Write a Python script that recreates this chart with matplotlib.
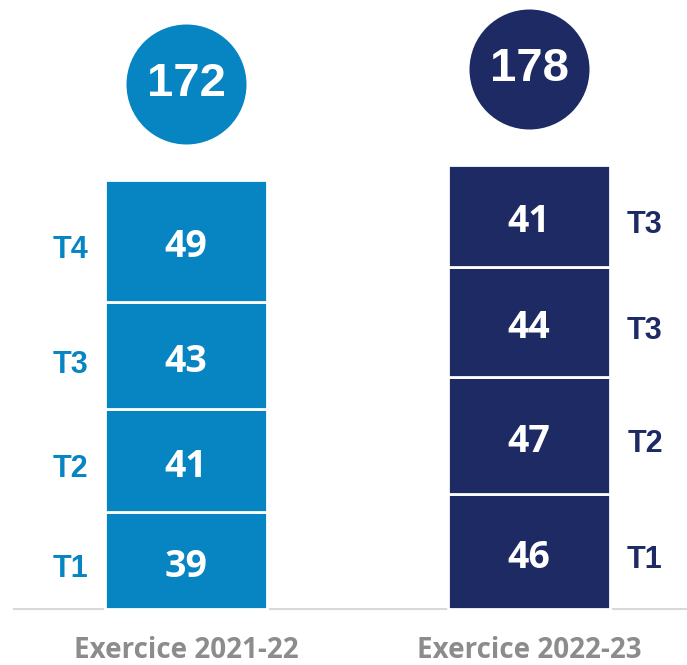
import matplotlib.pyplot as plt
import numpy as np

# Data
periods = ['Exercice 2021-22', 'Exercice 2022-23']
q_2021 = [39, 41, 43, 49]
q_2022 = [46, 47, 44, 41]
labels_2021 = ['T1', 'T2', 'T3', 'T4']
labels_2022 = ['T1', 'T2', 'T3', 'T3']

colors = ['#0785C3', '#1D2A64']
series = [q_2021, q_2022]
seg_labels = [labels_2021, labels_2022]

fig = plt.figure(figsize=(6.87, 6.65), dpi=100)
ax = fig.add_axes([0, 0, 1, 1])
ax.set_xlim(-0.5423, 1.4606)
ax.set_ylim(-22.45, 244.2)
ax.axis('off')

width = 0.472
for i, vals in enumerate(series):
    bottom = 0
    for j, v in enumerate(vals):
        ax.bar(i, v, width=width, bottom=bottom, color=colors[i],
               edgecolor='white', linewidth=2)
        ax.text(i, bottom + v / 2 - 2.5, str(v), ha='center', va='center',
                color='white', fontsize=27, fontweight='bold', family='Open Sans')
        side_x = -0.338 if i == 0 else 1.338
        ax.text(side_x, bottom + v / 2 - 3.5, seg_labels[i][j], ha='center', va='center',
                color=colors[i], fontsize=22, fontweight='bold', family='Liberation Sans')
        bottom += v
    total = sum(vals)
    # circle with total above the bar
    ax.scatter([i], [total + 38.5], s=7465, color=colors[i], zorder=3, linewidths=0)
    ax.text(i, total + 38.5, str(total), ha='center', va='center', color='white',
            fontsize=34, fontweight='bold', family='Liberation Sans', zorder=4)
    ax.text(i, -16.6, periods[i], ha='center', va='center', color='#8C8C8C',
            fontsize=20, fontweight='bold', family='Open Sans')

ax.axhline(0, xmin=0.02, xmax=1, color='#D9D9D9', linewidth=1.5, zorder=0)

fig.savefig('out.png', dpi=100)
